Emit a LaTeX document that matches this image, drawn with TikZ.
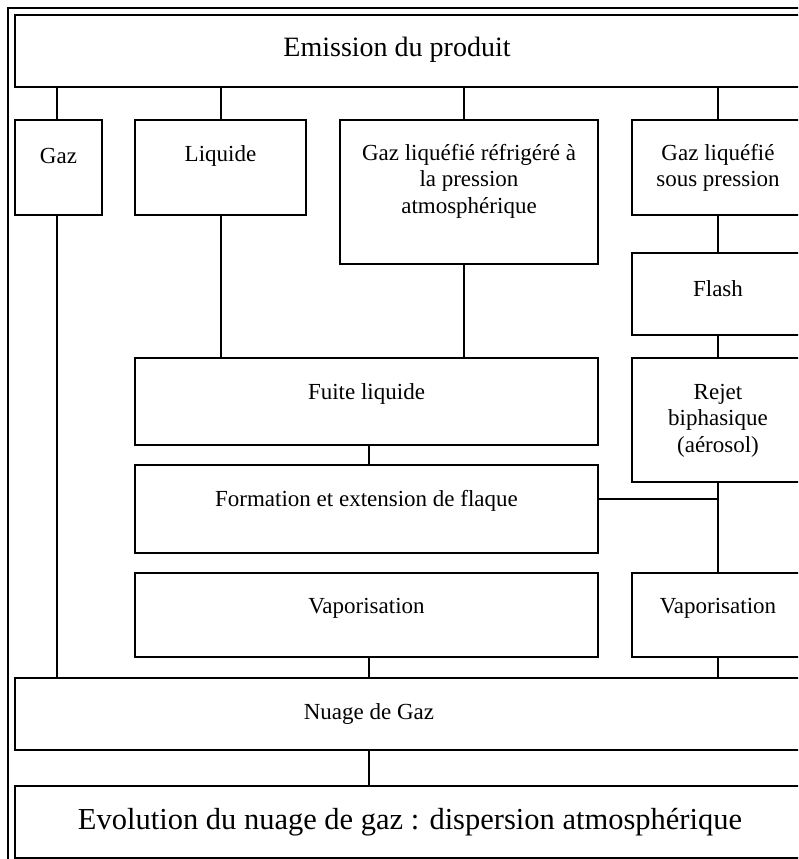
\documentclass[tikz,border=0pt]{standalone}
\usepackage{fontspec}
\setmainfont{Liberation Serif}
\usetikzlibrary{calc}
\begin{document}
\begin{tikzpicture}[x=1pt,y=-1pt,
  box/.style={draw, line width=1.3pt, anchor=north west, inner sep=0pt, outer sep=0pt},
  lbl/.style={align=center, font=\fontsize{23}{26.5}\selectfont, inner sep=0pt},
  big/.style={font=\fontsize{28}{34}\selectfont, inner sep=0pt},
  bigger/.style={font=\fontsize{30.5}{36}\selectfont, inner sep=0pt},
  link/.style={line width=1.3pt}]
\useasboundingbox (0,0) rectangle (798,859);
\clip (0,0) rectangle (798,859);
% outer frame
\draw[line width=2pt] (8,8) rectangle (830,890);

% boxes
\node[box, minimum width=800pt, minimum height=72pt] (emit) at (15,15) {};
\node[box, minimum width=87pt, minimum height=95pt] (gaz) at (15,120) {};
\node[box, minimum width=171pt, minimum height=95pt] (liq) at (135,120) {};
\node[box, minimum width=258pt, minimum height=144pt] (glr) at (340,120) {};
\node[box, minimum width=172pt, minimum height=95pt] (gls) at (632,120) {};
\node[box, minimum width=172pt, minimum height=82pt] (flash) at (632,253) {};
\node[box, minimum width=172pt, minimum height=124pt] (rejet) at (632,358) {};
\node[box, minimum width=463pt, minimum height=87pt] (fuite) at (135,358) {};
\node[box, minimum width=463pt, minimum height=88pt] (flaque) at (135,465) {};
\node[box, minimum width=463pt, minimum height=84pt] (vapl) at (135,573) {};
\node[box, minimum width=172pt, minimum height=84pt] (vapr) at (632,573) {};
\node[box, minimum width=800pt, minimum height=72pt] (nuage) at (15,678) {};
\node[box, minimum width=800pt, minimum height=72pt] (evol) at (15,786) {};

% texts
\node[big] (temit) at (397,50) {Emission du produit};
\node[lbl] (tgaz) at (58.5,156) {Gaz};
\node[lbl] (tliq) at (220.5,156) {Liquide};
\node[lbl, anchor=north] (tglr) at (469,144) {Gaz liquéfié réfrigéré à\\la pression\\atmosphérique};
\node[lbl, anchor=north] (tgls) at (718,144) {Gaz liquéfié\\sous pression};
\node[lbl] (tflash) at (718,289) {Flash};
\node[lbl, anchor=north] (trejet) at (718,384) {Rejet\\biphasique\\(aérosol)};
\node[lbl] (tfuite) at (366.5,394) {Fuite liquide};
\node[lbl] (tflaque) at (366.5,501) {Formation et extension de flaque};
\node[lbl] (tvapl) at (366.5,608) {Vaporisation};
\node[lbl] (tvapr) at (718,608) {Vaporisation};
\node[lbl] (tnuage) at (369,714) {Nuage de Gaz};
\node[bigger] (tevol) at (410,822) {Evolution du nuage de gaz : dispersion atmosphérique};

% connectors
\coordinate (xgaz) at (57,0);
\coordinate (xliq) at (221,0);
\coordinate (xglr) at (464,0);
\coordinate (xr) at (718,0);
\coordinate (xc) at (369,0);
\coordinate (joint) at (718,499);

\draw[link] (emit.south -| xgaz) -- (gaz.north -| xgaz);
\draw[link] (emit.south -| xliq) -- (liq.north -| xliq);
\draw[link] (emit.south -| xglr) -- (glr.north -| xglr);
\draw[link] (emit.south -| xr) -- (gls.north -| xr);
\draw[link] (gls.south -| xr) -- (flash.north -| xr);
\draw[link] (flash.south -| xr) -- (rejet.north -| xr);
\draw[link] (rejet.south -| xr) -- (vapr.north -| xr);
\draw[link] (flaque.east |- joint) -- (joint);
\draw[link] (liq.south -| xliq) -- (fuite.north -| xliq);
\draw[link] (glr.south -| xglr) -- (fuite.north -| xglr);
\draw[link] (fuite.south -| xc) -- (flaque.north -| xc);
\draw[link] (gaz.south -| xgaz) -- (nuage.north -| xgaz);
\draw[link] (vapl.south -| xc) -- (nuage.north -| xc);
\draw[link] (vapr.south -| xr) -- (nuage.north -| xr);
\draw[link] (nuage.south -| xc) -- (evol.north -| xc);
\end{tikzpicture}
\end{document}
